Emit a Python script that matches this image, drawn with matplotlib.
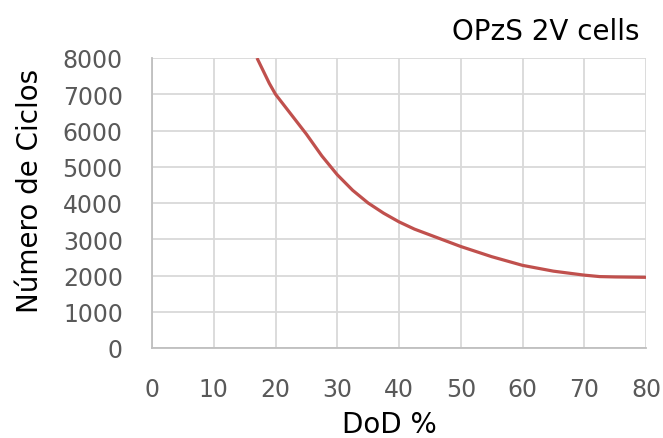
import matplotlib
matplotlib.use('Agg')
import matplotlib.pyplot as plt

# DoD (%) vs number of cycles
dod = [17.0, 18.0, 19.0, 20.0, 22.5, 25.0, 27.5, 30.0, 32.5, 35.0, 37.5, 40.0,
       42.5, 45.0, 47.5, 50.0, 55.0, 60.0, 65.0, 70.0, 72.5, 75.0, 80.0]
ciclos = [8000, 7650, 7300, 7000, 6450, 5900, 5300, 4780, 4350, 4000, 3720, 3480,
          3280, 3120, 2960, 2800, 2520, 2280, 2120, 2010, 1970, 1960, 1950]

x_ticks = [0, 10, 20, 30, 40, 50, 60, 70, 80]
y_ticks = [0, 1000, 2000, 3000, 4000, 5000, 6000, 7000, 8000]

plt.rcParams['font.family'] = ['DejaVu Sans']

fig = plt.figure(figsize=(6.63, 4.39), dpi=100)
ax = fig.add_axes([152 / 663, 1 - 349 / 439, (646 - 152) / 663, (349 - 59) / 439])

ax.plot(dod, ciclos, color='#C0504D', linewidth=2.3, solid_capstyle='butt')

ax.set_xlim(0, 80)
ax.set_ylim(0, 8000)
ax.set_xticks(x_ticks)
ax.set_yticks(y_ticks)
ax.grid(True, color='#d9d9d9', linewidth=1.3)
ax.set_axisbelow(True)
for side in ['top', 'right']:
    ax.spines[side].set_visible(False)
for side in ['left', 'bottom']:
    ax.spines[side].set_color('#bfbfbf')
    ax.spines[side].set_linewidth(1.3)
ax.tick_params(length=0, labelsize=17, labelcolor='#595959')
ax.tick_params(axis='x', pad=21)
ax.tick_params(axis='y', pad=21)

ax.set_xlabel('DoD %', fontsize=20, va='center')
ax.xaxis.set_label_coords(0.48, -0.262)
ax.set_ylabel('Número de Ciclos', fontsize=20, va='center')
ax.yaxis.set_label_coords(-0.247, 0.545)
fig.text(0.965, 0.927, 'OPzS 2V cells', fontsize=20, ha='right', va='center')

fig.savefig('out.png', dpi=100)
